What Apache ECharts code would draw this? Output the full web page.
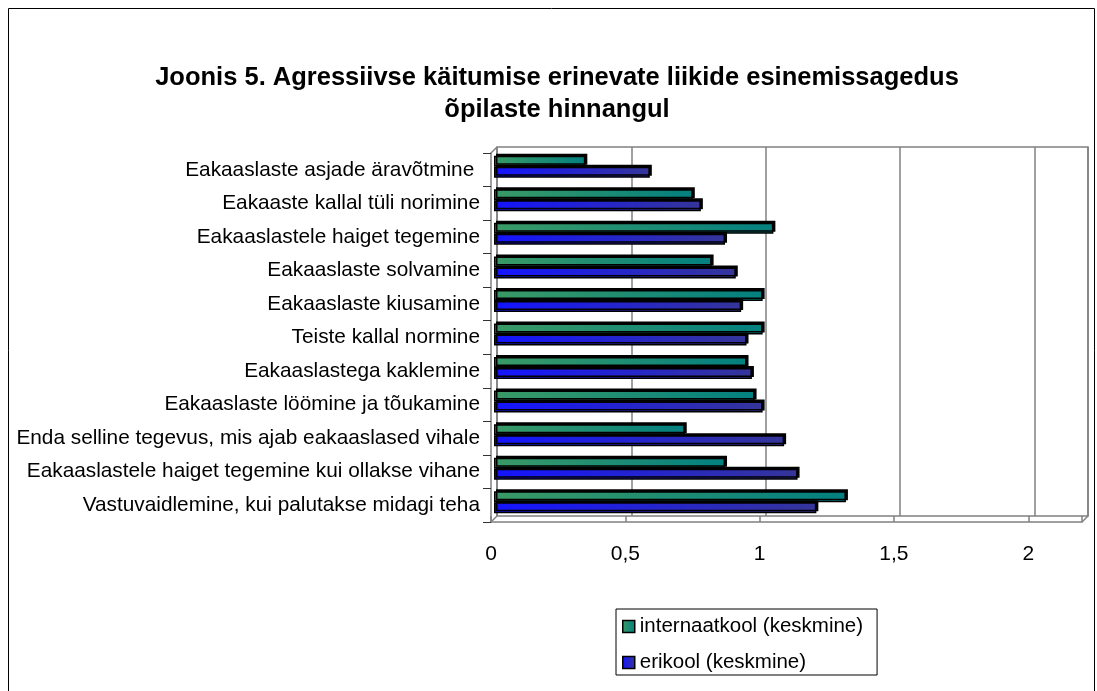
<!DOCTYPE html>
<html>
<head>
<meta charset="utf-8">
<script src="https://cdn.jsdelivr.net/npm/echarts@6/dist/echarts.min.js"></script>
<style>
html,body{margin:0;padding:0;background:#fff;}
#chart{width:1097px;height:691px;}
</style>
</head>
<body>
<div id="chart"></div>
<script>
const titleText = 'Joonis 5. Agressiivse käitumise erinevate liikide esinemissagedus\nõpilaste hinnangul';
const categories = [
  'Eakaaslaste asjade äravõtmine ',
  'Eakaaste kallal tüli norimine',
  'Eakaaslastele haiget tegemine',
  'Eakaaslaste solvamine',
  'Eakaaslaste kiusamine',
  'Teiste kallal normine',
  'Eakaaslastega kaklemine',
  'Eakaaslaste löömine ja tõukamine',
  'Enda selline tegevus, mis ajab eakaaslased vihale',
  'Eakaaslastele haiget tegemine kui ollakse vihane',
  'Vastuvaidlemine, kui palutakse midagi teha'
];
const seriesNames = ['internaatkool (keskmine)', 'erikool (keskmine)'];
const internaatkool = [0.34, 0.74, 1.04, 0.81, 1.00, 1.00, 0.94, 0.97, 0.71, 0.86, 1.31];
const erikool = [0.58, 0.77, 0.86, 0.90, 0.92, 0.94, 0.96, 1.00, 1.08, 1.13, 1.20];
const xTickValues = [0, 0.5, 1, 1.5, 2];

// layout
const W = 591, H = 369, D = 6;
const backL = 497, backT = 147;
const frontL = backL - D, frontT = backT + D;
const midL = backL - D / 2, midT = backT + D / 2;
const XMAX = 2.2;
const gray = '#808080';

const greenGrad = new echarts.graphic.LinearGradient(0, 0, 1, 0, [
  {offset: 0, color: '#3a9a66'}, {offset: 1, color: '#038080'}]);
const blueGrad = new echarts.graphic.LinearGradient(0, 0, 1, 0, [
  {offset: 0, color: '#1414ff'}, {offset: 1, color: '#35359a'}]);

const chart = echarts.init(document.getElementById('chart'), null, {renderer: 'canvas'});
const FONT = '"Liberation Sans", Arial, sans-serif';

function fmt(v) {
  if (xTickValues.indexOf(Math.round(v * 100) / 100) < 0) return '';
  return String(v).replace('.', ',');
}

const option = {
  animation: false,
  backgroundColor: '#fff',
  title: {
    text: titleText,
    left: 552, top: 57, textAlign: 'center',
    textStyle: {fontFamily: FONT, fontSize: 25.5, fontWeight: 'bold', color: '#000', lineHeight: 32}
  },
  legend: {
    orient: 'vertical',
    left: 616, top: 609,
    padding: [7, 14, 2, 6],
    itemGap: 15,
    itemWidth: 12, itemHeight: 12,
    itemTextGap: 5,
    borderColor: '#000', borderWidth: 1,
    textStyle: {fontFamily: FONT, fontSize: 20.5, color: '#000'},
    data: [
      {name: seriesNames[0], icon: 'rect', itemStyle: {color: greenGrad, borderColor: '#000', borderWidth: 1.5}},
      {name: seriesNames[1], icon: 'rect', itemStyle: {color: blueGrad, borderColor: '#000', borderWidth: 1.5}}
    ]
  },
  grid: [
    {left: backL, top: backT, width: W, height: H, show: true, borderColor: gray, borderWidth: 1.5, containLabel: false},
    {left: frontL, top: frontT, width: W, height: H, containLabel: false},
    {left: midL, top: midT, width: W, height: H, containLabel: false}
  ],
  xAxis: [
    {gridIndex: 0, type: 'value', min: 0, max: XMAX, interval: 0.5,
     axisLabel: {show: false}, axisTick: {show: false}, axisLine: {show: false},
     splitLine: {show: true, lineStyle: {color: gray, width: 1.5}}},
    {gridIndex: 1, type: 'value', min: 0, max: XMAX, interval: 0.5,
     axisLabel: {formatter: fmt, fontFamily: FONT, fontSize: 21, color: '#000', margin: 22},
     axisTick: {show: true, inside: true, length: 6, lineStyle: {color: gray, width: 1.5}},
     axisLine: {show: true, lineStyle: {color: gray, width: 1.5}},
     splitLine: {show: false}},
    {gridIndex: 2, type: 'value', min: 0, max: XMAX, show: false}
  ],
  yAxis: [
    {gridIndex: 0, type: 'category', data: categories, inverse: true, show: false},
    {gridIndex: 1, type: 'category', data: categories, inverse: true,
     axisLabel: {fontFamily: FONT, fontSize: 20.8, color: '#000', margin: 11},
     axisTick: {show: true, length: 8, lineStyle: {color: '#333', width: 1}},
     axisLine: {show: true, lineStyle: {color: gray, width: 1.5}}},
    {gridIndex: 2, type: 'category', data: categories, inverse: true, show: false}
  ],
  series: [
    {name: seriesNames[0], type: 'bar', xAxisIndex: 2, yAxisIndex: 2, data: internaatkool,
     barWidth: 11, barGap: '0%',
     itemStyle: {color: greenGrad, borderColor: '#000', borderWidth: 1.5,
       shadowColor: '#000', shadowOffsetX: 2, shadowOffsetY: -2, shadowBlur: 0}},
    {name: seriesNames[1], type: 'bar', xAxisIndex: 2, yAxisIndex: 2, data: erikool,
     barWidth: 11, barGap: '0%',
     itemStyle: {color: blueGrad, borderColor: '#000', borderWidth: 1.5,
       shadowColor: '#000', shadowOffsetX: 2, shadowOffsetY: -2, shadowBlur: 0}}
  ],
  graphic: [
    {type: 'rect', shape: {x: 8.5, y: 8.5, width: 1086, height: 700}, style: {fill: 'none', stroke: '#000', lineWidth: 1}, silent: true, z: -1},
    {type: 'line', shape: {x1: frontL, y1: frontT, x2: backL, y2: backT}, style: {stroke: gray, lineWidth: 1.5}},
    {type: 'line', shape: {x1: frontL, y1: frontT + H, x2: backL, y2: backT + H}, style: {stroke: gray, lineWidth: 1.5}},
    {type: 'line', shape: {x1: frontL + W, y1: frontT + H, x2: backL + W, y2: backT + H}, style: {stroke: gray, lineWidth: 1.5}}
  ]
};
chart.setOption(option);
</script>
</body>
</html>
